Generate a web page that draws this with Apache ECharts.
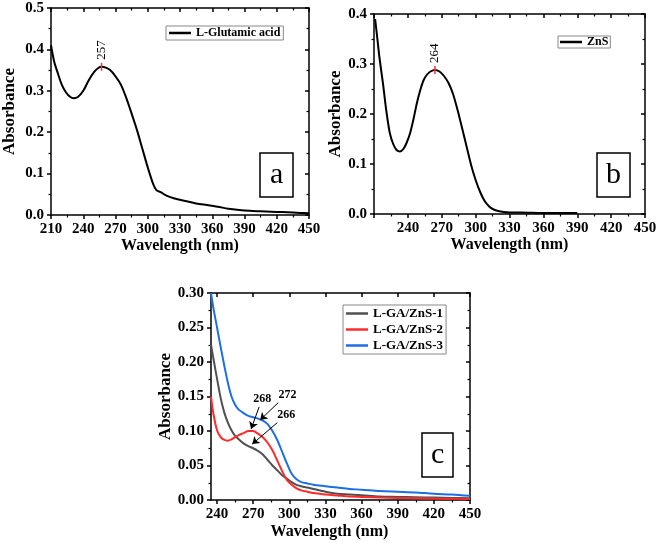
<!DOCTYPE html>
<html><head><meta charset="utf-8">
<script src="https://cdn.jsdelivr.net/npm/echarts@6/dist/echarts.min.js"></script>
<style>html,body{margin:0;padding:0;background:#fff}#c{width:661px;height:544px}</style>
</head><body><div id="c"></div>
<script>
// Panel a: L-Glutamic acid
const waveA = [210,213,216,220,224,228,231,235,240,245,250,254,257,261,265,270,275,280,285,290,295,300,305,308,312,318,325,335,345,355,365,375,385,395,405,415,425,435,442,450];
const absA  = [0.41,0.37,0.345,0.315,0.296,0.285,0.282,0.285,0.300,0.325,0.345,0.355,0.358,0.356,0.350,0.335,0.315,0.283,0.245,0.205,0.160,0.115,0.075,0.060,0.055,0.046,0.040,0.034,0.028,0.024,0.020,0.015,0.012,0.010,0.009,0.008,0.007,0.006,0.005,0.004];
// Panel b: ZnS
const waveB = [211,213,215,218,221,224,227,230,233,236,239,242,245,248,251,254,257,260,264,268,272,276,280,284,288,292,296,300,304,308,312,316,320,325,330,340,360,390];
const absB  = [0.39,0.35,0.31,0.26,0.205,0.162,0.140,0.128,0.125,0.130,0.143,0.162,0.190,0.222,0.248,0.268,0.279,0.285,0.288,0.285,0.276,0.262,0.240,0.208,0.172,0.135,0.098,0.068,0.044,0.026,0.015,0.009,0.006,0.004,0.003,0.003,0.002,0.002];
// Panel c: L-GA/ZnS composites
const waveC = [235,237,240,243,246,249,252,255,258,262,266,270,274,278,282,286,290,294,298,302,306,310,315,320,330,340,350,360,375,390,405,420,435,450];
const absC1 = [0.225,0.205,0.176,0.148,0.127,0.112,0.101,0.093,0.088,0.082,0.078,0.075,0.071,0.066,0.058,0.050,0.043,0.036,0.031,0.026,0.022,0.020,0.018,0.016,0.012,0.009,0.008,0.007,0.005,0.0045,0.004,0.0035,0.003,0.0025];
const absC2 = [0.150,0.125,0.101,0.091,0.087,0.086,0.088,0.091,0.094,0.097,0.100,0.100,0.096,0.091,0.083,0.072,0.057,0.042,0.029,0.022,0.017,0.014,0.012,0.010,0.008,0.0065,0.005,0.0045,0.0035,0.003,0.0025,0.002,0.0018,0.0015];
const absC3 = [0.300,0.278,0.250,0.222,0.195,0.170,0.150,0.138,0.131,0.126,0.122,0.120,0.118,0.115,0.110,0.100,0.087,0.070,0.053,0.038,0.030,0.026,0.024,0.022,0.020,0.018,0.016,0.015,0.013,0.012,0.011,0.009,0.008,0.006];

const seriesNames = ['L-Glutamic acid','ZnS','L-GA/ZnS-1','L-GA/ZnS-2','L-GA/ZnS-3'];
const colors = ['#000000','#000000','#505050','#ff2b2b','#1c6ee6'];

// Tick labels
const xTicksC = [240,270,300,330,360,390,420,450];
const xMinorC = [255,285,315,345,375,405,435];
const peakA = [257]; const peakB = [264];
const annC = ['268','272','266'];
const annCAt = [[277.5,0.146],[298.5,0.153],[297.5,0.124]];
const arrowC = [[[275,0.135],[268.3,0.103]],[[290.8,0.141],[275.8,0.116]],[[290,0.112],[269.2,0.081]]];

const zip = (x,y)=>x.map((v,i)=>[v,y[i]]);
const FF = 'Liberation Serif';
const axLine = {show:true, onZero:false, lineStyle:{color:'#000', width:1.5}};
const lbl = (fmt)=>({show:true, color:'#000', fontFamily:FF, fontWeight:'bold', fontSize:15, margin:7, formatter:fmt});
const nameStyle = {color:'#000', fontFamily:FF, fontWeight:'bold', fontSize:17};
const xNameStyle = {color:'#000', fontFamily:FF, fontWeight:'bold', fontSize:16};

function xPair(g, min, max, interval, fmt, nameGap){
  return [
    {type:'value', gridIndex:g, min, max, interval, position:'bottom', axisLine:axLine,
     axisTick:{show:true, inside:false, length:4, lineStyle:{width:1.5,color:'#000'}},
     minorTick:{show:true, splitNumber:2, length:2.5, lineStyle:{color:'#000',width:1.2}},
     splitLine:{show:false}, axisLabel:lbl(fmt),
     name:'Wavelength (nm)', nameLocation:'middle', nameGap, nameTextStyle:xNameStyle},
    {type:'value', gridIndex:g, min, max, interval, position:'top', axisLine:axLine,
     axisTick:{show:true, inside:true, length:4, lineStyle:{width:1.5,color:'#000'}},
     minorTick:{show:true, splitNumber:2, length:2.5, lineStyle:{color:'#000',width:1.2}},
     splitLine:{show:false}, axisLabel:{show:false}}
  ];
}
function yPair(g, min, max, interval, fmt, nameGap){
  return [
    {type:'value', gridIndex:g, min, max, interval, position:'left', axisLine:axLine,
     axisTick:{show:true, inside:false, length:4, lineStyle:{width:1.5,color:'#000'}},
     minorTick:{show:true, splitNumber:2, length:2.5, lineStyle:{color:'#000',width:1.2}},
     splitLine:{show:false}, axisLabel:lbl(fmt),
     name:'Absorbance', nameLocation:'middle', nameGap, nameTextStyle:nameStyle},
    {type:'value', gridIndex:g, min, max, interval, position:'right', axisLine:axLine,
     axisTick:{show:true, inside:true, length:4, lineStyle:{width:1.5,color:'#000'}},
     minorTick:{show:true, splitNumber:2, length:2.5, lineStyle:{color:'#000',width:1.2}},
     splitLine:{show:false}, axisLabel:{show:false}}
  ];
}

const xAxes = [
  ...xPair(0, 210, 450, 30, v=>String(v), 17),
  ...xPair(1, 210, 450, 30, v=>(v===210?'':String(v)), 17),
  // panel c: bottom with custom ticks (min 235)
  {type:'value', gridIndex:2, min:235, max:450, position:'bottom', axisLine:axLine,
   axisTick:{show:true, inside:false, length:4, customValues:xTicksC, lineStyle:{width:1.5,color:'#000'}},
   splitLine:{show:false}, axisLabel:Object.assign(lbl(v=>String(v)),{customValues:xTicksC}),
   name:'Wavelength (nm)', nameLocation:'middle', nameGap:24,
   nameTextStyle:Object.assign({}, xNameStyle, {padding:[0,22,0,0]})},
  {type:'value', gridIndex:2, min:235, max:450, position:'bottom', axisLine:{show:false},
   axisTick:{show:true, inside:false, length:2.5, customValues:xMinorC, lineStyle:{width:1.2,color:'#000'}},
   splitLine:{show:false}, axisLabel:{show:false, customValues:xMinorC}},
  {type:'value', gridIndex:2, min:235, max:450, position:'top', axisLine:axLine,
   axisTick:{show:true, inside:true, length:4, customValues:xTicksC, lineStyle:{width:1.5,color:'#000'}},
   splitLine:{show:false}, axisLabel:{show:false, customValues:xTicksC}}
];
const yAxes = [
  ...yPair(0, 0, 0.5, 0.1, v=>v.toFixed(1), 33),
  ...yPair(1, 0, 0.4, 0.1, v=>v.toFixed(1), 29),
  ...yPair(2, 0, 0.30, 0.05, v=>v.toFixed(2), 36)
];

const peakLabel = (txt)=>({
  symbol:'rect', symbolSize:[1.5,8], itemStyle:{color:'#ff3030'},
  label:{show:true, formatter:txt, position:'top', distance:3, rotate:90, align:'left', verticalAlign:'middle',
         color:'#000', fontFamily:FF, fontSize:13}
});

const option = {
  animation:false,
  backgroundColor:'#fff',
  grid:[
    {left:50, top:8, width:259, height:207},
    {left:374, top:14, width:271, height:200},
    {left:211, top:293, width:259, height:207}
  ],
  xAxis:xAxes,
  yAxis:yAxes,
  title:[
    {text:'a', left:260, top:153, borderColor:'#000', borderWidth:1.5, padding:[7,10,7,10],
     textStyle:{fontFamily:FF, fontWeight:'normal', fontSize:30, lineHeight:30, color:'#000'}},
    {text:'b', left:597, top:153, borderColor:'#000', borderWidth:1.5, padding:[7,9,7,9],
     textStyle:{fontFamily:FF, fontWeight:'normal', fontSize:30, lineHeight:30, color:'#000'}},
    {text:'c', left:422, top:433, borderColor:'#000', borderWidth:1.5, padding:[7,9,7,9],
     textStyle:{fontFamily:FF, fontWeight:'normal', fontSize:30, lineHeight:30, color:'#000'}}
  ],
  legend:[
    {data:[seriesNames[0]], left:166, top:26, orient:'vertical', borderColor:'#888', borderWidth:1,
     padding:[1,3,1,3], itemWidth:22, itemHeight:2.5, icon:'rect',
     textStyle:{fontFamily:FF, fontWeight:'bold', fontSize:12, color:'#000'}},
    {data:[seriesNames[1]], left:558, top:36, orient:'vertical', borderColor:'#888', borderWidth:1,
     padding:[0,2,0,2], itemWidth:22, itemHeight:2.5, icon:'rect',
     textStyle:{fontFamily:FF, fontWeight:'bold', fontSize:12, color:'#000'}},
    {data:seriesNames.slice(2), left:343, top:305, orient:'vertical', borderColor:'#888', borderWidth:1,
     padding:[2,3,2,3], itemGap:3, itemWidth:22, itemHeight:2.5, icon:'rect',
     textStyle:{fontFamily:FF, fontWeight:'bold', fontSize:13, color:'#000'}}
  ],
  series:[
    {name:seriesNames[0], type:'line', xAxisIndex:0, yAxisIndex:0, data:zip(waveA,absA), showSymbol:false, smooth:0.3,
     lineStyle:{color:colors[0], width:2}, itemStyle:{color:colors[0]},
     markPoint:Object.assign(peakLabel(String(peakA[0])),{data:[{coord:[peakA[0], absA[waveA.indexOf(peakA[0])]]}]})},
    {name:seriesNames[1], type:'line', xAxisIndex:2, yAxisIndex:2, data:zip(waveB,absB), showSymbol:false, smooth:0.3,
     lineStyle:{color:colors[1], width:2}, itemStyle:{color:colors[1]},
     markPoint:Object.assign(peakLabel(String(peakB[0])),{data:[{coord:[peakB[0], absB[waveB.indexOf(peakB[0])]]}]})},
    {name:seriesNames[2], type:'line', xAxisIndex:4, yAxisIndex:4, data:zip(waveC,absC1), showSymbol:false, smooth:0.3,
     lineStyle:{color:colors[2], width:2}, itemStyle:{color:colors[2]}},
    {name:seriesNames[3], type:'line', xAxisIndex:4, yAxisIndex:4, data:zip(waveC,absC2), showSymbol:false, smooth:0.3,
     lineStyle:{color:colors[3], width:2}, itemStyle:{color:colors[3]},
     markLine:{silent:true, symbol:['none','arrow'], symbolSize:7, lineStyle:{color:'#000', width:1, type:'solid'},
       label:{show:false}, emphasis:{disabled:true},
       data:arrowC.map(a=>[{coord:a[0]},{coord:a[1]}])},
     markPoint:{symbol:'circle', symbolSize:0, silent:true,
       label:{show:true, position:'inside', formatter:'{b}', color:'#000', fontFamily:FF, fontWeight:'bold', fontSize:12},
       data:annC.map((t,i)=>({name:t, coord:annCAt[i]}))}},
    {name:seriesNames[4], type:'line', xAxisIndex:4, yAxisIndex:4, data:zip(waveC,absC3), showSymbol:false, smooth:0.3,
     lineStyle:{color:colors[4], width:2}, itemStyle:{color:colors[4]}}
  ]
};
const chart = echarts.init(document.getElementById('c'), null, {renderer:'canvas'});
chart.setOption(option);
</script></body></html>
